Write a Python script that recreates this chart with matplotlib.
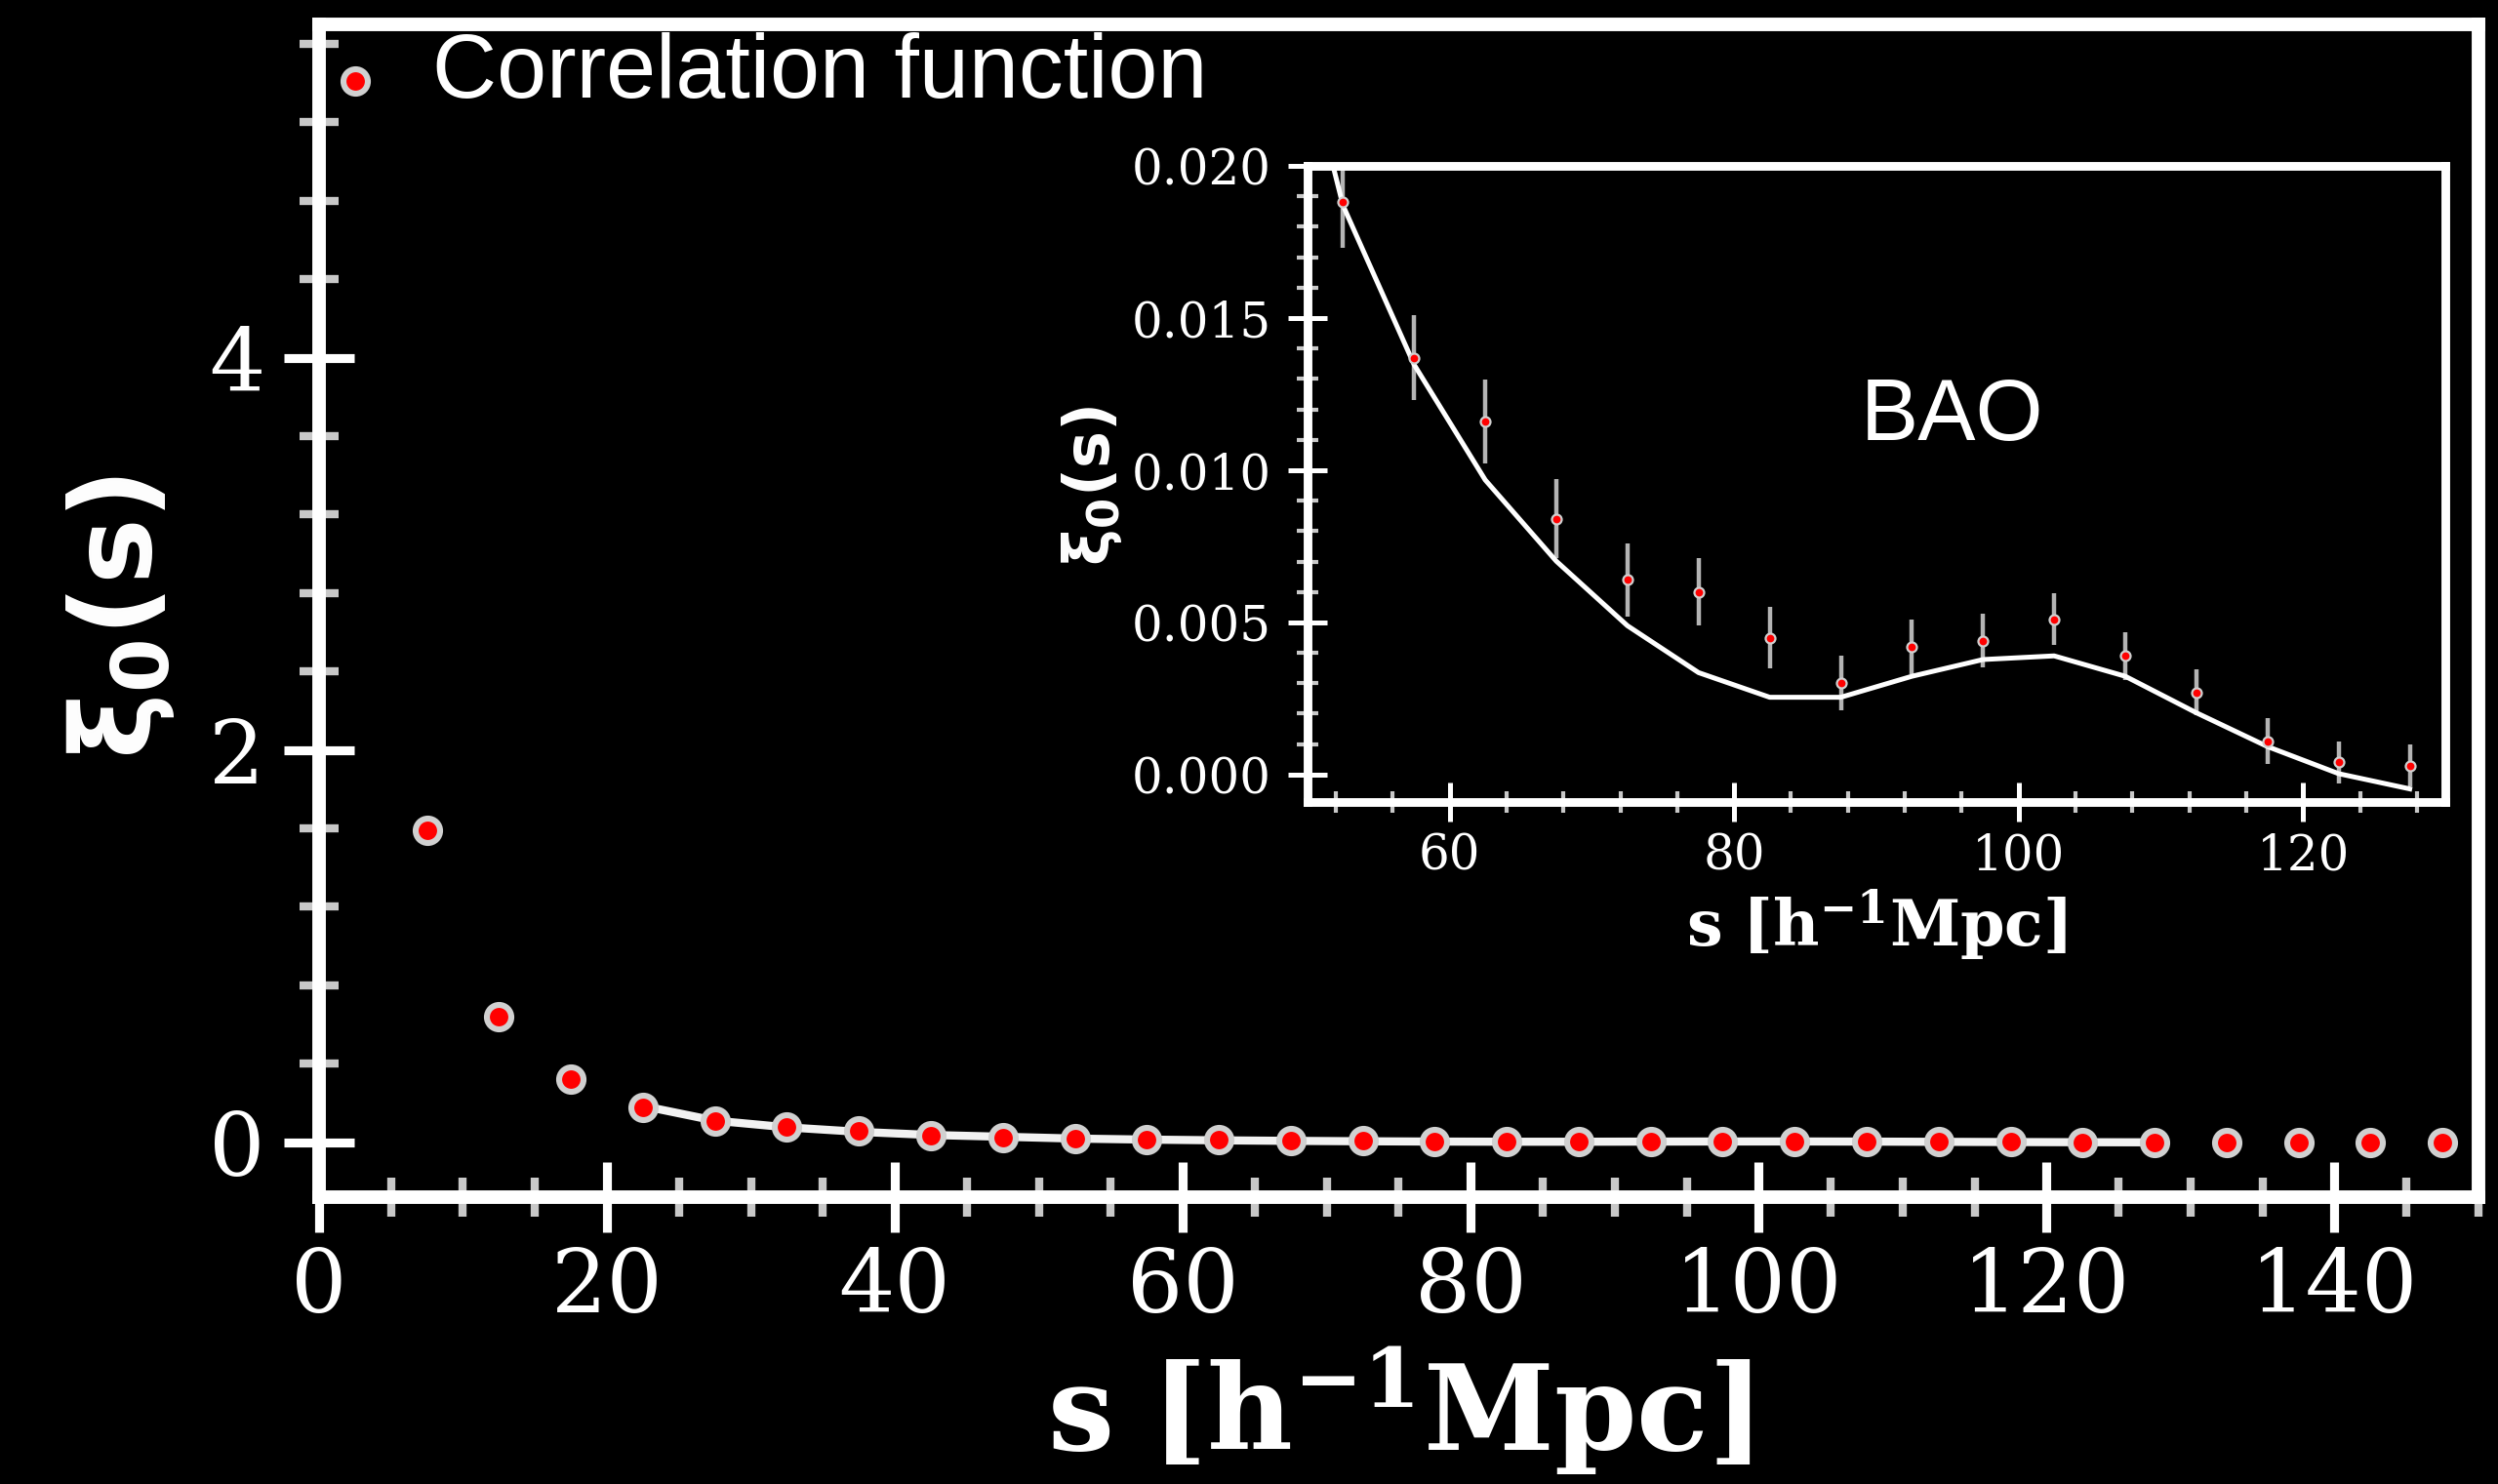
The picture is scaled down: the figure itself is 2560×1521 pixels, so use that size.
import matplotlib
matplotlib.use("Agg")
import matplotlib.pyplot as plt
from matplotlib.ticker import MultipleLocator, AutoMinorLocator

# ---------------- data ----------------
s_main = [2.5, 7.5, 12.5, 17.5, 22.5, 27.5, 32.5, 37.5, 42.5, 47.5,
          52.5, 57.5, 62.5, 67.5, 72.5, 77.5, 82.5, 87.5, 92.5, 97.5,
          102.5, 107.5, 112.5, 117.5, 122.5, 127.5, 132.5, 137.5, 142.5, 147.5]
xi_main = [5.41, 1.59, 0.642, 0.323, 0.179, 0.108, 0.080, 0.057, 0.035, 0.024,
           0.0188, 0.0137, 0.0116, 0.0084, 0.0064, 0.0060, 0.0045, 0.0030, 0.0042, 0.0044,
           0.0051, 0.0039, 0.0027, 0.0011, 0.0004, 0.0003, -0.0008, -0.0012, -0.0010, -0.0009]

s_bao = [52.5, 57.5, 62.5, 67.5, 72.5, 77.5, 82.5, 87.5,
         92.5, 97.5, 102.5, 107.5, 112.5, 117.5, 122.5, 127.5]
xi_bao = [0.0188, 0.0137, 0.0116, 0.0084, 0.0064, 0.0060, 0.0045, 0.0030,
          0.0042, 0.0044, 0.0051, 0.0039, 0.0027, 0.0011, 0.0004, 0.0003]
err_bao = [0.0015, 0.0014, 0.00137, 0.0013, 0.0012, 0.0011, 0.0010, 0.0009,
           0.0009, 0.00088, 0.00085, 0.00078, 0.00076, 0.00074, 0.0007, 0.0007]

s_model = [22.5, 27.5, 32.5, 37.5, 42.5, 47.5, 52.5, 57.5, 62.5, 67.5, 72.5,
           77.5, 82.5, 87.5, 92.5, 97.5, 102.5, 107.5, 112.5, 117.5, 122.5, 127.5]
xi_model = [0.185, 0.110, 0.076, 0.053, 0.037, 0.028, 0.0187, 0.01347, 0.00968, 0.00701, 0.00489,
            0.00335, 0.00254, 0.00254, 0.00323, 0.00378, 0.0039, 0.00323, 0.00203, 0.00092,
            0.00003, -0.00047]

main_xticks = [0, 20, 40, 60, 80, 100, 120, 140]
main_yticks = [0, 2, 4]
inset_xticks = [60, 80, 100, 120]
inset_yticks = [0.000, 0.005, 0.010, 0.015, 0.020]

# ---------------- style ----------------
plt.rcParams['font.family'] = ['DejaVu Serif']
WHITE = 'white'
MINOR = '#c8c8c8'

fig = plt.figure(figsize=(12.8, 7.605), dpi=200, facecolor='black')

# ---------------- main axes ----------------
ax = fig.add_axes([0.1277, 0.1933, 0.8645, 0.7903], facecolor='black')
ax.plot(s_model, xi_model, color='#f2f2f2', lw=3.0, zorder=2, solid_capstyle='butt')
ax.plot(s_main, xi_main, 'o', ms=9, mfc='red', mec='#d0d0d0', mew=2.2, zorder=3)
ax.set_xlim(0, 150)
ax.set_ylim(-0.28, 5.7)
ax.set_xticks(main_xticks)
ax.set_yticks(main_yticks)
ax.xaxis.set_minor_locator(AutoMinorLocator(4))
ax.yaxis.set_minor_locator(AutoMinorLocator(5))
for sp in ax.spines.values():
    sp.set_color(WHITE)
    sp.set_linewidth(5.0)
ax.tick_params(which='major', direction='inout', length=26, width=3.3,
               color=WHITE, labelcolor=WHITE, labelsize=32.5)
ax.tick_params(axis='x', which='major', pad=5)
ax.tick_params(axis='y', which='major', pad=7)
ax.tick_params(which='minor', direction='inout', length=14.4, width=3.0, color=MINOR)

ax.set_xlabel(r'$\mathbf{s\ [h^{-1}Mpc]}$', fontsize=43.5, color=WHITE,
              math_fontfamily='dejavuserif')
ax.xaxis.set_label_coords(0.5, -0.125)
ax.set_ylabel(r'$\mathbf{\xi_0(s)}$', fontsize=41, color=WHITE,
              math_fontfamily='dejavusans')
ax.yaxis.set_label_coords(-0.066, 0.495)

fig.text(443 / 2560, 1 - 100 / 1521, 'Correlation function', color=WHITE,
         fontsize=33, family=['Liberation Sans', 'DejaVu Sans'], va='baseline', ha='left')

# ---------------- inset ----------------
ins = fig.add_axes([0.5234, 0.4596, 0.4555, 0.4286], facecolor='black')
ins.errorbar(s_bao, xi_bao, yerr=err_bao, fmt='none', ecolor='#b4b4b4',
             elinewidth=1.6, capsize=0, zorder=2)
ins.plot(s_model, xi_model, color=WHITE, lw=1.8, zorder=3)
ins.plot(s_bao, xi_bao, 'o', ms=3.6, mfc='red', mec='#d0d0d0', mew=0.8, zorder=4)
ins.set_xlim(50, 130)
ins.set_ylim(-0.0009, 0.020)
ins.set_xticks(inset_xticks)
ins.set_yticks(inset_yticks)
ins.set_yticklabels([f'{v:.3f}' for v in inset_yticks])
ins.xaxis.set_minor_locator(AutoMinorLocator(5))
ins.yaxis.set_minor_locator(AutoMinorLocator(5))
for sp in ins.spines.values():
    sp.set_color(WHITE)
    sp.set_linewidth(3.2)
ins.tick_params(which='major', direction='inout', length=14.7, width=1.8,
                color=WHITE, labelcolor=WHITE, labelsize=18)
ins.tick_params(axis='x', which='major', pad=3.8)
ins.tick_params(axis='y', which='major', pad=6)
ins.tick_params(which='minor', direction='inout', length=8, width=1.5, color=MINOR)

ins.set_xlabel(r'$\mathbf{s\ [h^{-1}Mpc]}$', fontsize=23.5, color=WHITE,
               math_fontfamily='dejavuserif')
ins.xaxis.set_label_coords(0.5, -0.135)
ins.set_ylabel(r'$\mathbf{\xi_0(s)}$', fontsize=23, color=WHITE,
               math_fontfamily='dejavusans')
ins.yaxis.set_label_coords(-0.161, 0.497)

fig.text(1907 / 2560, 1 - 451 / 1521, 'BAO', color=WHITE, fontsize=32,
         family=['Liberation Sans', 'DejaVu Sans'], va='baseline', ha='left')

fig.savefig('out.png', dpi=200, facecolor='black')
